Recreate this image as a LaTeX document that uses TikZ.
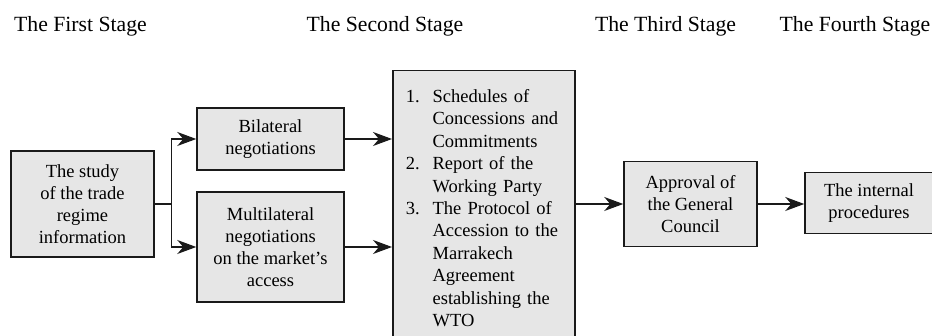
\documentclass[tikz,border=0pt]{standalone}
\usepackage{fontspec}
\setmainfont{Liberation Serif}[Ligatures=TeX]
\newfontfamily\wtoserif{Liberation Serif}
\usetikzlibrary{arrows.meta,positioning}
\definecolor{WTOInk}{HTML}{1A1A1A}
\definecolor{WTOFill}{HTML}{E6E6E6}

\begin{document}
\begin{tikzpicture}[x=1pt,y=-1pt,
            >={Stealth[length=19pt,width=14pt,inset=6pt]},
            stagelabel/.style={anchor=base,font=\wtoserif\fontsize{21.7}{26}\selectfont},
            stagebox/.style={draw=WTOInk,fill=WTOFill,line width=1.5pt,align=center,
              font=\wtoserif\fontsize{18.5}{22}\selectfont,inner sep=0pt},
            link/.style={line width=1.2pt,draw=WTOInk},
            flow/.style={link,->}
          ]
          \useasboundingbox (0,0) rectangle (932,336);
          \clip (0,0) rectangle (932,336);
          % stage titles
          \node[stagelabel] (first) at (80.5,32) {The First Stage};
          \node[stagelabel] (second) at (385,32) {The Second Stage};
          \node[stagelabel] (third) at (665.5,32) {The Third Stage};
          \node[stagelabel] (fourth) at (855,32) {The Fourth Stage};
          % boxes
          \node[stagebox,minimum width=143pt,minimum height=106pt] (study) at (82.5,204)
            {The study\\of the trade\\regime\\information};
          \node[stagebox,minimum width=147pt,minimum height=62pt] (bilat) at (270.5,139)
            {Bilateral\\negotiations};
          \node[stagebox,minimum width=147pt,minimum height=110pt] (multi) at (270.5,247)
            {Multilateral\\negotiations\\on the market’s\\access};
          \node[stagebox,anchor=north west,align=left,text width=156pt,
            inner xsep=13pt,inner ysep=16pt,font=\wtoserif\fontsize{18.5}{22.4}\selectfont] (docs) at (392,70)
            {\begin{tabular}{@{}l@{\hspace{13pt}}l@{}}
              1. & Schedules of\\
                 & Concessions and\\
                 & Commitments\\
              2. & Report of the\\
                 & Working Party\\
              3. & The Protocol of\\
                 & Accession to the\\
                 & Marrakech\\
                 & Agreement\\
                 & establishing the\\
                 & WTO
            \end{tabular}};
          \node[stagebox,minimum width=133pt,minimum height=85pt] (approval) at (690.5,204)
            {Approval of\\the General\\Council};
          \node[stagebox,minimum width=128pt,minimum height=61pt] (internal) at (869,203)
            {The internal\\procedures};
          % connectors
          \coordinate[right=17pt of study.east] (split);
          \draw[link] (study.east) -- (split);
          \draw[flow] (split) |- (bilat.west);
          \draw[flow] (split) |- (multi.west);
          \draw[flow] (bilat.east) -- (bilat.east -| docs.west);
          \draw[flow] (multi.east) -- (multi.east -| docs.west);
          \draw[flow] (docs.east |- approval.west) -- (approval.west);
          \draw[flow] (approval.east) -- (approval.east -| internal.west);
        \end{tikzpicture}
\end{document}
